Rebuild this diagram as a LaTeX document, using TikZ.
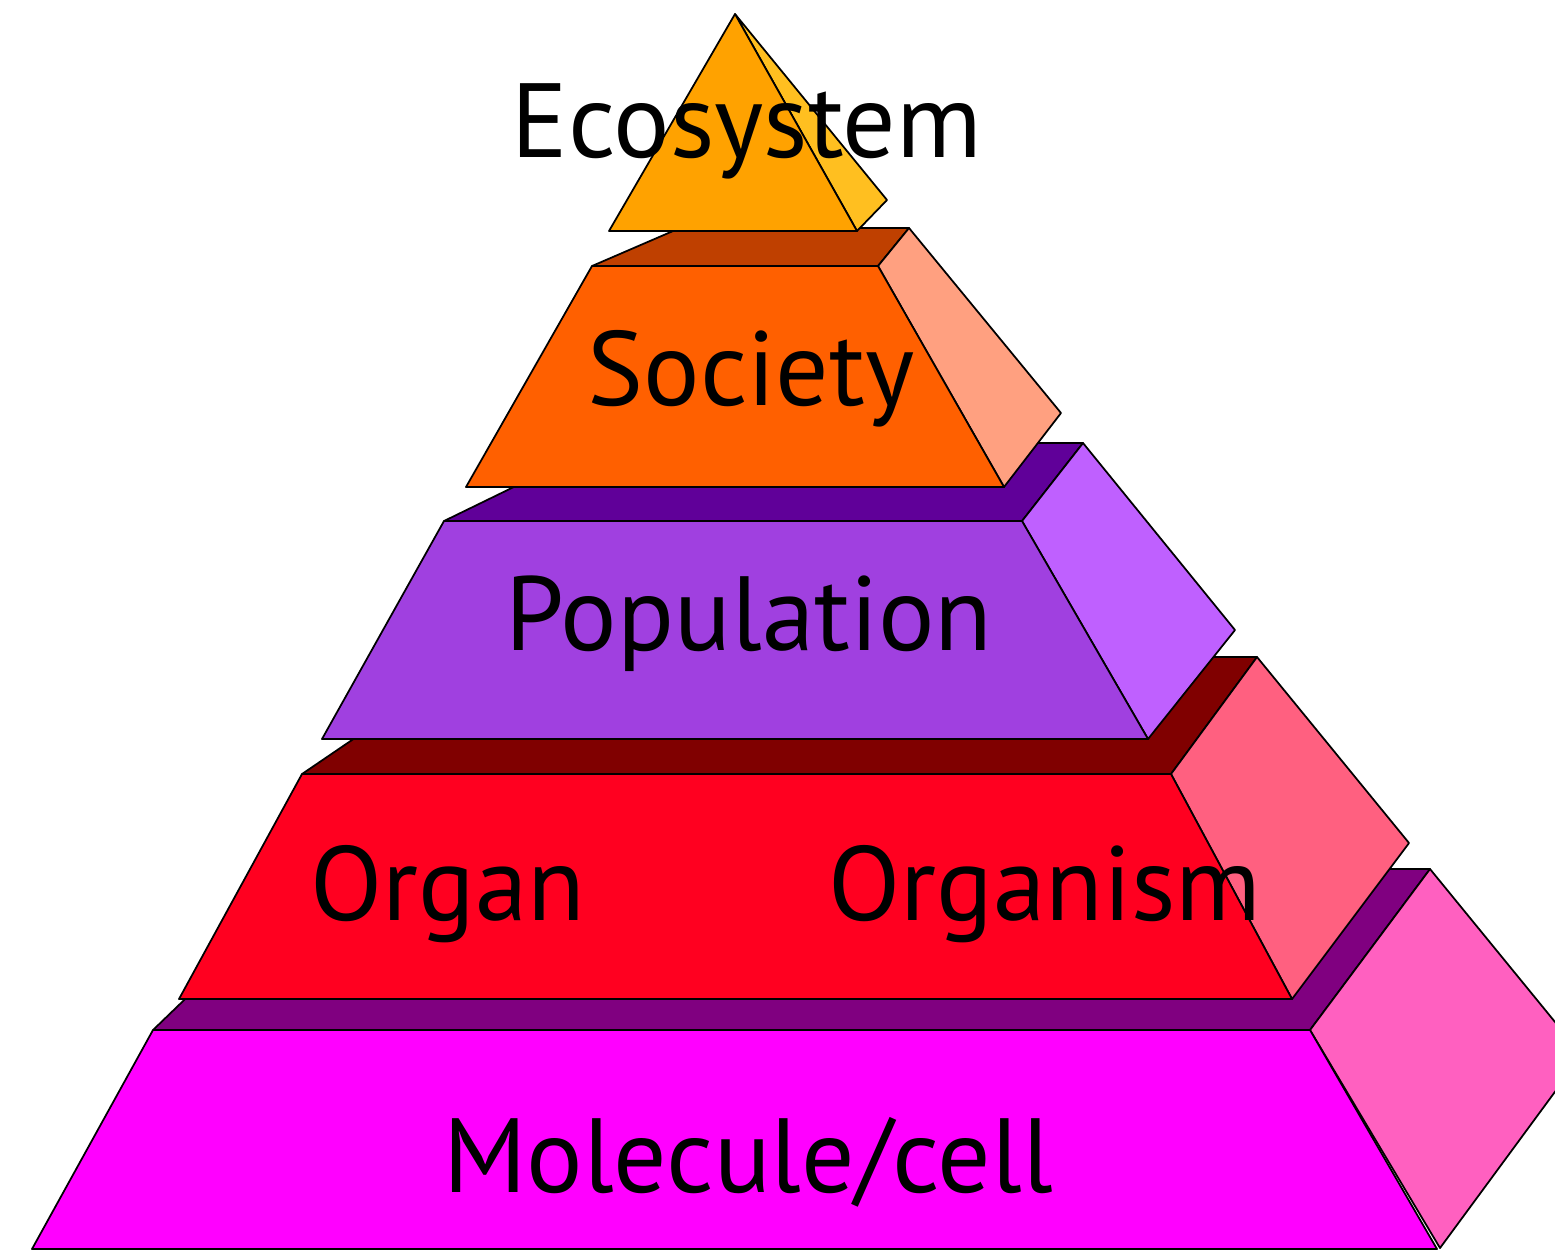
\documentclass[tikz,border=0pt]{standalone}
\usepackage{fontspec}
\setmainfont{PT Sans}
\usetikzlibrary{positioning}
\definecolor{ecoFront}{HTML}{FFA200}
\definecolor{ecoSide}{HTML}{FFBF20}
\definecolor{socFront}{HTML}{FF6000}
\definecolor{socTop}{HTML}{BF4000}
\definecolor{socSide}{HTML}{FFA080}
\definecolor{popFront}{HTML}{A040E0}
\definecolor{popTop}{HTML}{600099}
\definecolor{popSide}{HTML}{BF60FF}
\definecolor{orgFront}{HTML}{FF0020}
\definecolor{orgTop}{HTML}{800000}
\definecolor{orgSide}{HTML}{FF6080}
\definecolor{cellFront}{HTML}{FF00FF}
\definecolor{cellTop}{HTML}{800080}
\definecolor{cellSide}{HTML}{FF60C0}
\tikzset{
  face/.style={draw=black, line width=0.5pt, line join=round},
  level/.style={font=\fontsize{30}{36}\selectfont, anchor=base, inner sep=0pt}
}

\begin{document}
\begin{tikzpicture}[x=0.01cm, y=-0.01cm]
  \useasboundingbox (0,0) rectangle (1555,1250);
  \clip (0,0) rectangle (1555,1250);
  % molecule/cell
  \fill[face, fill=cellTop] (153,1030) -- (320,869) -- (1430,869) -- (1310,1030) -- cycle;
  \fill[face, fill=cellSide] (1310,1030) -- (1430,869) -- (1582,1055) -- (1440,1248) -- cycle;
  \fill[face, fill=cellFront] (153,1030) -- (1310,1030) -- (1437,1249) -- (32,1249) -- cycle;
  % organ
  \fill[face, fill=orgTop] (302,774) -- (474,657) -- (1257,657) -- (1171,774) -- cycle;
  \fill[face, fill=orgSide] (1171,774) -- (1257,657) -- (1409,843) -- (1292,999) -- cycle;
  \fill[face, fill=orgFront] (302,774) -- (1171,774) -- (1292,999) -- (179,999) -- cycle;
  % population
  \fill[face, fill=popTop] (444,521) -- (604,443) -- (1083,443) -- (1022,521) -- cycle;
  \fill[face, fill=popSide] (1022,521) -- (1083,443) -- (1235,630) -- (1148,739) -- cycle;
  \fill[face, fill=popFront] (444,521) -- (1022,521) -- (1148,739) -- (322,739) -- cycle;
  % society
  \fill[face, fill=socTop] (592,266) -- (680,228) -- (909,228) -- (878,266) -- cycle;
  \fill[face, fill=socSide] (878,266) -- (909,228) -- (1061,413) -- (1004,487) -- cycle;
  \fill[face, fill=socFront] (592,266) -- (878,266) -- (1004,487) -- (466,487) -- cycle;
  % ecosystem
  \fill[face, fill=ecoSide] (735,14) -- (887,200) -- (857,231) -- cycle;
  \fill[face, fill=ecoFront] (735,14) -- (857,231) -- (609,231) -- cycle;
  % labels
  \node[level] (eco) at (747,157) {Ecosystem};
  \node[level] (soc) at (751,405) {Society};
  \node[level] (pop) at (749,650) {Population};
  \node[level] (organ) at (448,920) {Organ};
  \node[level] (organism) at (1045,920) {Organism};
  \node[level] (cell) at (748,1192) {Molecule/cell};
\end{tikzpicture}
\end{document}
